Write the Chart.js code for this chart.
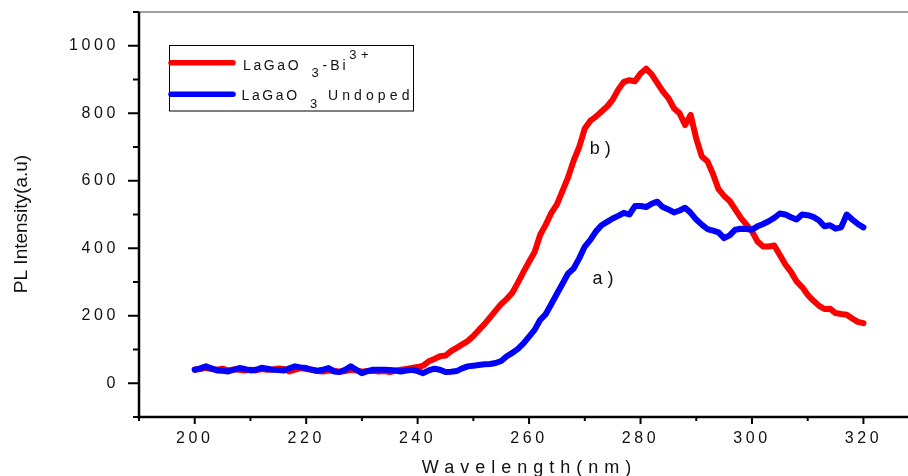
<!DOCTYPE html>
<html>
<head>
<meta charset="utf-8">
<script src="https://cdn.jsdelivr.net/npm/chart.js@4.4.1/dist/chart.umd.min.js"></script>
<style>
  html, body { margin: 0; padding: 0; background: #fff; }
  #wrap { width: 908px; height: 476px; }
</style>
</head>
<body>
<div id="wrap"><canvas id="grafico-pl" width="908" height="476"></canvas></div>
<script>
// Longitudes de onda medidas (nm), paso de 1 nm
const longitudes = Array.from({ length: 121 }, (_, i) => 200 + i);

// a) LaGaO3 sin dopar
const intensidadPuro = [
  40, 44, 50, 44, 38, 37, 35, 40, 45, 42,
  38, 40, 46, 43, 40, 39, 38, 44, 50, 47,
  45, 40, 37, 40, 45, 35, 33, 40, 50, 40,
  30, 36, 40, 40, 40, 39, 38, 35, 38, 40,
  36, 30, 38, 43, 40, 33, 34, 36, 44, 50,
  52, 54, 56, 57, 60, 66, 80, 90, 102, 118,
  138, 158, 188, 205, 235, 265, 295, 325, 340, 370,
  405, 425, 450, 468, 478, 488, 496, 505, 500, 525,
  525, 522, 532, 538, 522, 515, 506, 512, 520, 505,
  485, 470, 457, 452, 447, 430, 438, 455, 458, 457,
  455, 465, 472, 480, 490, 503, 500, 492, 485, 500,
  498, 493, 483, 465, 468, 458, 462, 500, 485, 472,
  462
];

// b) LaGaO3 dopado con Bi3+
const intensidadDopado = [
  40, 42, 46, 42, 40, 43, 38, 41, 40, 38,
  40, 38, 42, 40, 41, 44, 42, 35, 40, 45,
  42, 40, 36, 35, 38, 37, 34, 36, 40, 38,
  34, 36, 37, 35, 36, 33, 37, 40, 42, 45,
  48, 52, 65, 72, 80, 82, 95, 105, 115, 125,
  140, 158, 175, 195, 215, 235, 250, 268, 298, 330,
  360, 389, 440, 470, 505, 530, 570, 610, 660, 700,
  755, 778, 790, 805, 820, 840, 870, 893, 898, 895,
  918, 932, 915, 890, 865, 845, 815, 800, 765, 795,
  725, 672, 658, 620, 575, 555, 540, 515, 490, 470,
  450, 420, 405, 405, 408, 380, 352, 330, 302, 285,
  262, 245, 230, 220, 221, 208, 205, 203, 192, 182,
  178
];

// Marcas con etiqueta en cada eje
const etiquetasX = [200, 220, 240, 260, 280, 300, 320];
const etiquetasY = [0, 200, 400, 600, 800, 1000];

const FUENTE = '"Liberation Sans", Arial, sans-serif';
const ROJO = '#ff0000';
const AZUL = '#0000ff';

function puntos(valores) {
  return longitudes.map((l, i) => ({ x: l, y: valores[i] }));
}

function linea(ctx, x1, y1, x2, y2) {
  ctx.beginPath();
  ctx.moveTo(x1, y1);
  ctx.lineTo(x2, y2);
  ctx.stroke();
}

// Texto con tramos (subíndice / superíndice) para la leyenda
function tramos(ctx, lista) {
  lista.forEach(t => {
    ctx.font = t.size + 'px ' + FUENTE;
    ctx.letterSpacing = t.esp + 'px';
    ctx.fillText(t.txt, t.x, t.y);
  });
}

// 1) Marco, marcas, títulos, leyenda y anotaciones
const marcoEjes = {
  id: 'marcoEjes',
  beforeDraw(chart) {
    chart.ctx.letterSpacing = '3.6px';
  },
  afterDraw(chart) {
    const { ctx, chartArea: a, scales: { x, y } } = chart;
    ctx.save();
    ctx.letterSpacing = '0px';
    ctx.lineCap = 'butt';

    // borde superior gris
    ctx.strokeStyle = '#808080';
    ctx.lineWidth = 1.5;
    linea(ctx, a.left, a.top, a.right, a.top);

    // ejes
    ctx.strokeStyle = '#000';
    ctx.lineWidth = 2.5;
    linea(ctx, a.left, a.top, a.left, a.bottom + 1.25);
    linea(ctx, a.left - 1.25, a.bottom, a.right, a.bottom);

    // marcas mayores y menores
    ctx.lineWidth = 2;
    y.ticks.forEach(t => {
      const py = y.getPixelForValue(t.value);
      const largo = etiquetasY.includes(t.value) ? 11 : 6;
      linea(ctx, a.left - largo, py, a.left, py);
    });
    x.ticks.forEach(t => {
      const px = x.getPixelForValue(t.value);
      const largo = etiquetasX.includes(t.value) ? 7 : 4;
      linea(ctx, px, a.bottom, px, a.bottom + largo);
    });

    ctx.fillStyle = '#111';

    // título eje X
    ctx.font = '18px ' + FUENTE;
    ctx.letterSpacing = '6px';
    ctx.textAlign = 'center';
    ctx.textBaseline = 'alphabetic';
    ctx.fillText('Wavelength(nm)', (a.left + a.right) / 2 + 6, 473);

    // título eje Y
    ctx.letterSpacing = '0px';
    ctx.font = '19px ' + FUENTE;
    ctx.save();
    ctx.translate(26.5, 224);
    ctx.rotate(-Math.PI / 2);
    ctx.fillText('PL Intensity(a.u)', 0, 0);
    ctx.restore();

    // leyenda
    ctx.lineWidth = 1;
    ctx.strokeStyle = '#000';
    ctx.strokeRect(169.5, 45.5, 244, 65.5);
    ctx.lineWidth = 5.5;
    ctx.lineCap = 'round';
    ctx.strokeStyle = ROJO;
    linea(ctx, 171, 62.7, 233, 62.7);
    ctx.strokeStyle = AZUL;
    linea(ctx, 171, 94.3, 233, 94.3);

    ctx.textAlign = 'left';
    tramos(ctx, [
      { txt: 'LaGaO', x: 243, y: 70, size: 14, esp: 2.6 },
      { txt: '3', x: 311.5, y: 77.3, size: 13, esp: 0 },
      { txt: '-Bi', x: 322.5, y: 70, size: 14, esp: 3 },
      { txt: '3+', x: 349.3, y: 59, size: 13, esp: 4.5 },
      { txt: 'LaGaO', x: 241.5, y: 100, size: 14, esp: 2.6 },
      { txt: '3', x: 310, y: 108.3, size: 13, esp: 0 },
      { txt: 'Undoped', x: 328, y: 100, size: 14, esp: 4.1 }
    ]);

    // anotaciones de cada curva
    ctx.letterSpacing = '0px';
    ctx.font = '18px ' + FUENTE;
    ctx.textBaseline = 'middle';
    ctx.fillText('b )', x.getPixelForValue(270.9), y.getPixelForValue(693));
    ctx.fillText('a )', x.getPixelForValue(271.4), y.getPixelForValue(309));

    ctx.restore();
  }
};

// 2) Gráfico de espectros PL
const ctx = document.getElementById('grafico-pl').getContext('2d');
window.graficoPL = new Chart(ctx, {
  type: 'line',
  data: {
    datasets: [
      { label: 'LaGaO3 Undoped', data: puntos(intensidadPuro), borderColor: AZUL, order: 0 },
      { label: 'LaGaO3-Bi3+', data: puntos(intensidadDopado), borderColor: ROJO, order: 1 }
    ]
  },
  options: {
    responsive: false,
    animation: false,
    layout: { padding: { top: 12, right: 0, bottom: 0, left: 0 } },
    elements: {
      point: { radius: 0 },
      line: { borderWidth: 6, tension: 0, borderJoinStyle: 'round', borderCapStyle: 'round', fill: false }
    },
    plugins: { legend: { display: false }, tooltip: { enabled: false } },
    scales: {
      x: {
        type: 'linear',
        min: 190,
        max: 328,
        afterBuildTicks: s => { s.ticks = s.ticks.filter(t => t.value % 10 === 0 && t.value <= 320); },
        afterFit: s => { s.height = 59; s.paddingLeft = 0; s.paddingRight = 0; },
        grid: { display: false, drawTicks: false },
        border: { display: false },
        ticks: {
          stepSize: 10,
          autoSkip: false,
          maxRotation: 0,
          padding: 12,
          color: '#111',
          font: { family: FUENTE, size: 16 },
          callback: v => etiquetasX.includes(v) ? String(v) : ''
        }
      },
      y: {
        min: -100,
        max: 1100,
        afterFit: s => { s.width = 139; s.paddingTop = 0; s.paddingBottom = 0; },
        grid: { display: false, drawTicks: false },
        border: { display: false },
        ticks: {
          stepSize: 100,
          autoSkip: false,
          padding: 20,
          color: '#111',
          font: { family: FUENTE, size: 16 },
          callback: v => etiquetasY.includes(v) ? String(v) : ''
        }
      }
    }
  },
  plugins: [marcoEjes]
});
</script>
</body>
</html>
